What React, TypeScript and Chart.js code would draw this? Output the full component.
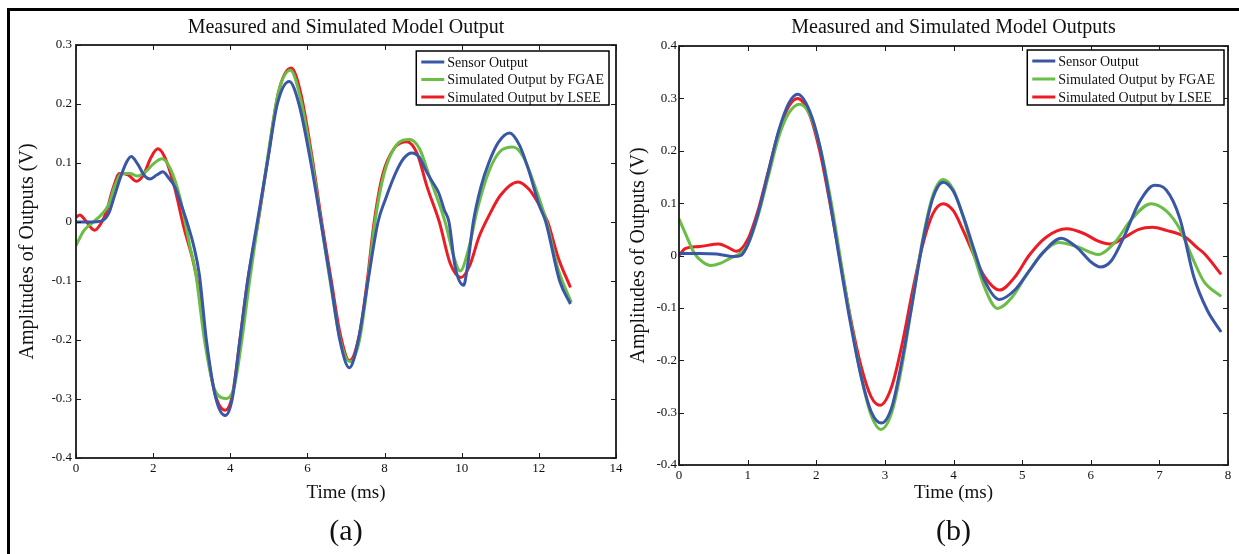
import React, { useEffect, useRef } from 'react';
import { Chart, registerables } from 'chart.js';

Chart.register(...registerables);

const SERIF = '"Liberation Serif", "Times New Roman", serif';

const seriesLabels = ['Sensor Output', 'Simulated Output by FGAE', 'Simulated Output by LSEE'];
const seriesColors = ['#3a57a7', '#6abd45', '#ed1c24'];

type Pt = [number, number];

// ---- Panel (a): time (ms), amplitude (V)
const aSensor: Pt[] = [
  [0, 0], [0.35, 0], [0.67, 0.002], [0.85, 0.015], [1.0, 0.045], [1.15, 0.075], [1.3, 0.1], [1.43, 0.111],
  [1.6, 0.098], [1.78, 0.078], [1.92, 0.073], [2.1, 0.08], [2.25, 0.085], [2.4, 0.075], [2.56, 0.06],
  [2.75, 0.025], [2.9, -0.005], [3.05, -0.04], [3.2, -0.09], [3.38, -0.2], [3.63, -0.3], [3.87, -0.328],
  [4.05, -0.3], [4.25, -0.2], [4.45, -0.1], [4.7, 0.0], [4.96, 0.1], [5.22, 0.2], [5.53, 0.238],
  [5.78, 0.2], [6.09, 0.1], [6.35, 0.0], [6.6, -0.1], [6.84, -0.2], [7.09, -0.247], [7.32, -0.2],
  [7.57, -0.1], [7.83, 0.0], [8.03, 0.04], [8.3, 0.085], [8.5, 0.108], [8.7, 0.117], [8.9, 0.11],
  [9.05, 0.09], [9.21, 0.071], [9.4, 0.05], [9.55, 0.02], [9.67, 0.0], [9.83, -0.076], [10.05, -0.107],
  [10.15, -0.075], [10.3, 0.0], [10.5, 0.06], [10.7, 0.1], [10.95, 0.135], [11.24, 0.151], [11.5, 0.13],
  [11.75, 0.085], [12.0, 0.03], [12.18, 0.0], [12.54, -0.1], [12.82, -0.139],
];
const aFgae: Pt[] = [
  [0, -0.04], [0.2, -0.015], [0.45, 0.0], [0.65, 0.012], [0.85, 0.03], [1.0, 0.06], [1.18, 0.082],
  [1.4, 0.082], [1.6, 0.078], [1.8, 0.085], [2.0, 0.098], [2.23, 0.107], [2.45, 0.09], [2.7, 0.04],
  [2.95, -0.04], [3.1, -0.085], [3.33, -0.2], [3.6, -0.285], [3.91, -0.299], [4.1, -0.28], [4.3, -0.2],
  [4.5, -0.1], [4.72, 0.0], [4.97, 0.11], [5.25, 0.22], [5.56, 0.257], [5.8, 0.215], [6.1, 0.11],
  [6.35, 0.0], [6.6, -0.105], [6.85, -0.2], [7.11, -0.237], [7.35, -0.2], [7.55, -0.11], [7.75, 0.0],
  [7.98, 0.08], [8.3, 0.13], [8.65, 0.14], [8.9, 0.125], [9.2, 0.07], [9.57, 0.0], [9.8, -0.06],
  [9.96, -0.083], [10.2, -0.04], [10.4, 0.02], [10.7, 0.085], [11.0, 0.12], [11.33, 0.127], [11.6, 0.11],
  [11.9, 0.06], [12.2, 0.0], [12.5, -0.08], [12.84, -0.136],
];
const aLsee: Pt[] = [
  [0, 0.008], [0.1, 0.012], [0.25, 0.002], [0.48, -0.014], [0.65, -0.002], [0.8, 0.02], [0.95, 0.055],
  [1.13, 0.082], [1.35, 0.08], [1.57, 0.069], [1.75, 0.08], [1.95, 0.11], [2.12, 0.124], [2.3, 0.11],
  [2.55, 0.06], [2.8, -0.01], [3.05, -0.07], [3.2, -0.12], [3.38, -0.21], [3.6, -0.29], [3.87, -0.319],
  [4.05, -0.295], [4.25, -0.2], [4.45, -0.1], [4.72, 0.0], [4.98, 0.11], [5.25, 0.22], [5.58, 0.261],
  [5.82, 0.22], [6.12, 0.11], [6.37, 0.0], [6.62, -0.1], [6.85, -0.19], [7.09, -0.235], [7.35, -0.19],
  [7.55, -0.1], [7.73, 0.0], [7.95, 0.08], [8.25, 0.125], [8.58, 0.136], [8.85, 0.115], [9.1, 0.06],
  [9.42, 0.0], [9.7, -0.07], [9.98, -0.094], [10.2, -0.075], [10.45, -0.025], [10.7, 0.01], [11.0, 0.045],
  [11.46, 0.068], [11.75, 0.055], [12.0, 0.03], [12.23, 0.0], [12.5, -0.06], [12.82, -0.111],
];

// ---- Panel (b)
const bSensor: Pt[] = [
  [0, 0.004], [0.3, 0.004], [0.55, 0.003], [0.8, -0.002], [0.9, 0.0], [1.0, 0.02], [1.15, 0.079],
  [1.3, 0.158], [1.45, 0.237], [1.6, 0.291], [1.73, 0.308], [1.9, 0.277], [2.05, 0.21], [2.2, 0.104],
  [2.35, -0.016], [2.5, -0.13], [2.65, -0.229], [2.8, -0.298], [2.95, -0.32], [3.1, -0.29], [3.25, -0.2],
  [3.4, -0.09], [3.55, 0.025], [3.7, 0.11], [3.85, 0.14], [4.0, 0.122], [4.15, 0.072], [4.3, 0.011],
  [4.45, -0.047], [4.67, -0.084], [4.9, -0.065], [5.1, -0.03], [5.3, 0.005], [5.57, 0.033], [5.8, 0.015],
  [6.0, -0.012], [6.14, -0.022], [6.3, -0.01], [6.5, 0.04], [6.7, 0.1], [6.93, 0.134], [7.1, 0.125],
  [7.3, 0.07], [7.5, -0.04], [7.7, -0.105], [7.9, -0.146],
];
const bFgae: Pt[] = [
  [0, 0.07], [0.1, 0.04], [0.22, 0.005], [0.35, -0.013], [0.46, -0.019], [0.6, -0.015], [0.75, -0.005],
  [0.9, 0.005], [1.0, 0.02], [1.15, 0.075], [1.3, 0.15], [1.45, 0.225], [1.6, 0.272], [1.76, 0.289],
  [1.92, 0.265], [2.07, 0.2], [2.22, 0.1], [2.37, -0.02], [2.52, -0.14], [2.67, -0.24], [2.8, -0.305],
  [2.94, -0.332], [3.1, -0.3], [3.25, -0.21], [3.4, -0.09], [3.55, 0.03], [3.7, 0.115], [3.85, 0.145],
  [4.0, 0.125], [4.15, 0.07], [4.3, 0.0], [4.45, -0.06], [4.64, -0.101], [4.85, -0.08], [5.05, -0.04],
  [5.3, 0.005], [5.53, 0.025], [5.8, 0.017], [6.11, 0.002], [6.35, 0.025], [6.6, 0.07], [6.88, 0.099],
  [7.1, 0.085], [7.3, 0.05], [7.5, -0.01], [7.65, -0.05], [7.9, -0.078],
];
const bLsee: Pt[] = [
  [0, 0.0], [0.09, 0.013], [0.3, 0.017], [0.58, 0.022], [0.72, 0.015], [0.84, 0.008], [1.0, 0.03],
  [1.15, 0.085], [1.3, 0.16], [1.45, 0.235], [1.6, 0.285], [1.73, 0.3], [1.9, 0.27], [2.05, 0.2],
  [2.2, 0.1], [2.35, -0.01], [2.5, -0.12], [2.65, -0.21], [2.8, -0.27], [2.93, -0.286], [3.1, -0.25],
  [3.25, -0.17], [3.4, -0.07], [3.55, 0.02], [3.7, 0.08], [3.85, 0.099], [4.0, 0.085], [4.15, 0.045],
  [4.3, 0.0], [4.45, -0.04], [4.67, -0.066], [4.9, -0.04], [5.1, 0.0], [5.35, 0.035], [5.65, 0.051],
  [5.9, 0.042], [6.1, 0.028], [6.28, 0.022], [6.5, 0.035], [6.7, 0.05], [6.9, 0.054], [7.1, 0.048],
  [7.38, 0.035], [7.55, 0.015], [7.66, 0.003], [7.9, -0.036],
];

type PanelCfg = {
  left: number; width: number; height: number;
  title: string; tag: string;
  series: Pt[][];
  xMax: number; xStep: number; yMin: number; yMax: number;
  pad: { left: number; top: number; right: number; bottom: number };
  titlePad: { top: number; bottom: number };
  yWidth: number; xHeight: number;
  yTickPad: number; xTickPad: number;
  yTitlePad: number; xTitlePad: number;
  legend: { right: number; top: number; height: number; rowTop: number; rowGap: number; extraW: number };
};

function boxTicksPlugin() {
  return {
    id: 'boxTicks',
    afterDatasetsDraw(chart: any) {
      const { ctx, chartArea: a, scales } = chart;
      const L = 5;
      ctx.save();
      ctx.strokeStyle = '#1a1a1a';
      ctx.lineWidth = 1;
      ctx.beginPath();
      scales.x.ticks.forEach((t: any) => {
        const px = Math.round(scales.x.getPixelForValue(t.value)) + 0.5;
        ctx.moveTo(px, a.bottom); ctx.lineTo(px, a.bottom - L);
        ctx.moveTo(px, a.top); ctx.lineTo(px, a.top + L);
      });
      scales.y.ticks.forEach((t: any) => {
        const py = Math.round(scales.y.getPixelForValue(t.value)) + 0.5;
        ctx.moveTo(a.left, py); ctx.lineTo(a.left + L, py);
        ctx.moveTo(a.right, py); ctx.lineTo(a.right - L, py);
      });
      ctx.stroke();
      ctx.lineWidth = 1.8;
      ctx.strokeRect(a.left, a.top, a.right - a.left, a.bottom - a.top);
      ctx.restore();
    },
  };
}

function legendPlugin(lg: PanelCfg['legend']) {
  return {
    id: 'boxLegend',
    afterDraw(chart: any) {
      const { ctx, chartArea: a } = chart;
      ctx.save();
      ctx.font = `14px ${SERIF}`;
      const ds = chart.data.datasets;
      const tw = Math.max(...ds.map((d: any) => ctx.measureText(d.label).width));
      const w = 31 + tw + 5 + lg.extraW;
      const x = a.right - lg.right - w;
      const y = a.top + lg.top;
      ctx.fillStyle = '#ffffff';
      ctx.fillRect(x, y, w, lg.height);
      ctx.strokeStyle = '#000000';
      ctx.lineWidth = 1.5;
      ctx.strokeRect(x, y, w, lg.height);
      ds.forEach((d: any, i: number) => {
        const ry = y + lg.rowTop + i * lg.rowGap;
        ctx.strokeStyle = d.borderColor;
        ctx.lineWidth = 3;
        ctx.beginPath();
        ctx.moveTo(x + 5, ry);
        ctx.lineTo(x + 28, ry);
        ctx.stroke();
        ctx.fillStyle = '#111';
        ctx.textBaseline = 'middle';
        ctx.textAlign = 'left';
        ctx.fillText(d.label, x + 31, ry + 1);
      });
      ctx.restore();
    },
  };
}

function makeConfig(p: PanelCfg): any {
  return {
    type: 'line',
    data: {
      datasets: p.series.map((s, i) => ({
        label: seriesLabels[i],
        data: s.map(([x, y]) => ({ x, y })),
        borderColor: seriesColors[i],
        backgroundColor: seriesColors[i],
        borderWidth: 3,
        pointRadius: 0,
        fill: false,
        tension: 0.4,
        cubicInterpolationMode: 'monotone',
      })),
    },
    options: {
      responsive: false,
      animation: false,
      events: [],
      layout: { padding: p.pad },
      plugins: {
        legend: { display: false },
        tooltip: { enabled: false },
        title: {
          display: true,
          text: p.title,
          fullSize: false,
          color: '#111',
          font: { family: SERIF, size: 20, weight: 'normal' },
          padding: p.titlePad,
        },
        subtitle: {
          display: true,
          position: 'bottom',
          text: p.tag,
          fullSize: false,
          color: '#111',
          font: { family: SERIF, size: 30, weight: 'normal' },
          padding: { top: 0, bottom: 4 },
        },
      },
      scales: {
        x: {
          type: 'linear',
          min: 0,
          max: p.xMax,
          afterFit: (s: any) => { s.height = p.xHeight; s.paddingLeft = 0; s.paddingRight = 0; },
          ticks: {
            stepSize: p.xStep,
            padding: p.xTickPad,
            color: '#111',
            font: { family: SERIF, size: 13 },
            maxRotation: 0,
            autoSkip: false,
          },
          grid: { display: false, drawTicks: false },
          border: { display: false },
          title: {
            display: true,
            text: 'Time (ms)',
            color: '#111',
            font: { family: SERIF, size: 19 },
            padding: { top: 0, bottom: p.xTitlePad },
          },
        },
        y: {
          type: 'linear',
          min: p.yMin,
          max: p.yMax,
          afterFit: (s: any) => { s.width = p.yWidth; s.paddingTop = 0; s.paddingBottom = 0; },
          ticks: {
            stepSize: 0.1,
            padding: p.yTickPad,
            color: '#111',
            font: { family: SERIF, size: 13 },
            autoSkip: false,
            callback: (v: number) => {
              const n = Math.round(v * 10) / 10;
              return n === 0 ? '0' : String(n);
            },
          },
          grid: { display: false, drawTicks: false },
          border: { display: false },
          title: {
            display: true,
            text: 'Amplitudes of Outputs (V)',
            color: '#111',
            font: { family: SERIF, size: 20 },
            padding: { top: p.yTitlePad, bottom: 0 },
          },
        },
      },
    },
    plugins: [boxTicksPlugin(), legendPlugin(p.legend)],
  };
}

const panelA: PanelCfg = {
  left: 0, width: 632, height: 554,
  title: 'Measured and Simulated Model Output', tag: '(a)',
  series: [aSensor, aFgae, aLsee],
  xMax: 14, xStep: 2, yMin: -0.4, yMax: 0.3,
  pad: { left: 10, top: 4, right: 16, bottom: 0 },
  titlePad: { top: 12, bottom: 5 },
  yWidth: 66, xHeight: 56,
  yTickPad: 4, xTickPad: 3,
  yTitlePad: 6, xTitlePad: 10,
  legend: { right: 7, top: 6, height: 54, rowTop: 11, rowGap: 17.5, extraW: 0 },
};

const panelB: PanelCfg = {
  left: 620, width: 619, height: 554,
  title: 'Measured and Simulated Model Outputs', tag: '(b)',
  series: [bSensor, bFgae, bLsee],
  xMax: 8, xStep: 1, yMin: -0.4, yMax: 0.4,
  pad: { left: 2, top: 4, right: 11, bottom: 0 },
  titlePad: { top: 12, bottom: 6 },
  yWidth: 57, xHeight: 49,
  yTickPad: 2, xTickPad: 3,
  yTitlePad: 5, xTitlePad: 10,
  legend: { right: 4, top: 4, height: 55, rowTop: 11, rowGap: 18, extraW: 4 },
};

function Panel({ cfg }: { cfg: PanelCfg }) {
  const ref = useRef<HTMLCanvasElement | null>(null);
  useEffect(() => {
    if (!ref.current) return;
    const chart = new Chart(ref.current, makeConfig(cfg));
    return () => chart.destroy();
  }, [cfg]);
  return (
    <canvas
      ref={ref}
      width={cfg.width}
      height={cfg.height}
      style={{ position: 'absolute', left: cfg.left, top: 0, width: cfg.width, height: cfg.height }}
    />
  );
}

export default function App() {
  return (
    <div style={{ position: 'absolute', left: 0, top: 0, width: 1239, height: 554, background: '#fff', overflow: 'hidden' }}>
      <div
        style={{
          position: 'absolute', left: 7, top: 8, width: 1239, height: 560,
          borderTop: '3px solid #000', borderLeft: '3px solid #000', boxSizing: 'border-box',
        }}
      />
      <Panel cfg={panelA} />
      <Panel cfg={panelB} />
    </div>
  );
}
